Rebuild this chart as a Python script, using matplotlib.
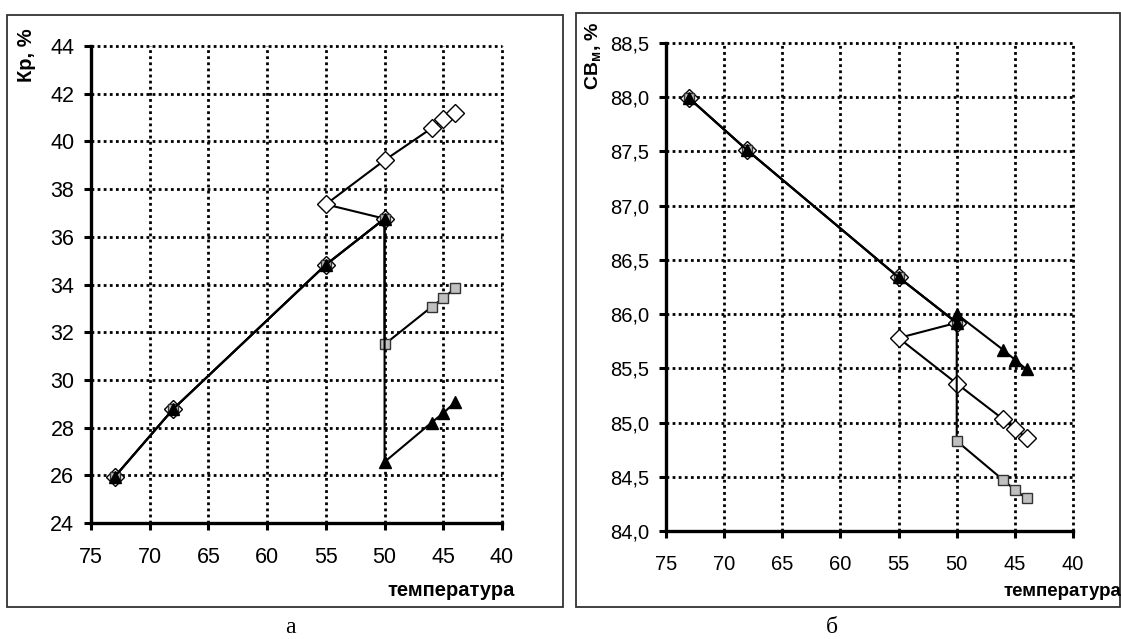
import matplotlib.pyplot as plt
from matplotlib.patches import Rectangle

plt.rcParams['font.family'] = ['Liberation Sans', 'DejaVu Sans']
plt.rcParams['mathtext.fontset'] = 'custom'
plt.rcParams['mathtext.rm'] = 'Liberation Sans'
plt.rcParams['mathtext.bf'] = 'Liberation Sans:bold'

# данные
temp_d = [73, 68, 55, 50, 55, 50, 46, 45, 44]
temp_s = [73, 68, 55, 50, 50, 46, 45, 44]

kr_diamond = [25.93, 28.78, 34.83, 36.76, 37.36, 39.21, 40.55, 40.93, 41.19]
kr_square = [25.93, 28.78, 34.83, 36.76, 31.49, 33.06, 33.43, 33.84]
kr_triangle = [25.93, 28.78, 34.83, 36.76, 26.56, 28.21, 28.61, 29.06]

sv_diamond = [87.99, 87.51, 86.34, 85.92, 85.78, 85.36, 85.03, 84.94, 84.86]
sv_square = [87.99, 87.51, 86.34, 85.92, 84.83, 84.47, 84.38, 84.30]
sv_triangle = [87.99, 87.51, 86.34, 85.92, 86.00, 85.67, 85.58, 85.49]

x_ticks = [75, 70, 65, 60, 55, 50, 45, 40]
kr_ticks = [24, 26, 28, 30, 32, 34, 36, 38, 40, 42, 44]
sv_ticks = [84.0, 84.5, 85.0, 85.5, 86.0, 86.5, 87.0, 87.5, 88.0, 88.5]
sv_labels = [f"{v:.1f}".replace('.', ',') for v in sv_ticks]


def draw_panel(ax, yd, ys, yt, yticks, ylabels, fs):
    ax.plot(temp_d, yd, color='black', lw=1.5, marker='D', ms=9,
            mfc='white', mec='black', mew=1.0, zorder=3)
    ax.plot(temp_s, ys, color='black', lw=1.5, marker='s', ms=7,
            mfc='#c0c0c0', mec='#333333', mew=1.0, zorder=4)
    ax.plot(temp_s, yt, color='black', lw=1.5, marker='^', ms=8,
            mfc='black', mec='black', zorder=5)
    ax.set_xlim(75, 40)
    ax.set_ylim(yticks[0], yticks[-1])
    ax.set_xticks(x_ticks)
    ax.set_yticks(yticks)
    ax.set_yticklabels(ylabels)
    ax.grid(True, color='black', lw=2.0, linestyle=(0, (1, 1.2)))
    # линии сетки на краях не обрезать
    for gl in ax.get_xgridlines() + ax.get_ygridlines():
        gl.set_clip_on(False)
    for s in ['top', 'right']:
        ax.spines[s].set_visible(False)
    for s in ['left', 'bottom']:
        ax.spines[s].set_linewidth(2.4)
        ax.spines[s].set_zorder(6)
    ax.tick_params(axis='both', direction='out', length=5, width=2.2,
                   labelsize=fs)
    ax.tick_params(axis='y', pad=7)
    ax.tick_params(axis='x', pad=12)


fig = plt.figure(figsize=(11.21, 6.39), dpi=100)

ax1 = fig.add_axes([0.0812, 0.1815, 0.3666, 0.7465])
draw_panel(ax1, kr_diamond, kr_square, kr_triangle, kr_ticks,
           [str(t) for t in kr_ticks], 15.5)

ax2 = fig.add_axes([0.5941, 0.169, 0.3631, 0.7637])
draw_panel(ax2, sv_diamond, sv_square, sv_triangle, sv_ticks, sv_labels, 14.5)

# рамки областей диаграмм
fig.patches.append(Rectangle((0.0062, 0.0501), 0.496, 0.9264, fill=False,
                             lw=1.3, ec='#333333', transform=fig.transFigure))
fig.patches.append(Rectangle((0.5138, 0.0501), 0.4855, 0.9296, fill=False,
                             lw=1.3, ec='#333333', transform=fig.transFigure))

fig.text(26 / 1121, 1 - 55 / 639, "Кр, %", rotation=90, ha='center',
         va='center', fontsize=14.5, fontweight='bold')
fig.text(594 / 1121, 1 - 56 / 639, r"$\mathbf{СВ}_{\mathbf{м}}$, %",
         rotation=90, ha='center', va='center', fontsize=14,
         fontweight='bold')

fig.text(515 / 1121, 1 - 591 / 639, "температура", ha='right', va='center',
         fontsize=14.5, fontweight='bold')
fig.text(1121 / 1121, 1 - 591 / 639, "температура", ha='right', va='center',
         fontsize=13.5, fontweight='bold')

fig.text(290 / 1121, 1 - 638 / 639, "а", ha='center', va='bottom',
         fontsize=17, family='Liberation Serif')
fig.text(832 / 1121, 1 - 638 / 639, "б", ha='center', va='bottom',
         fontsize=17, family='Liberation Serif')

fig.savefig('out.png', dpi=100)
